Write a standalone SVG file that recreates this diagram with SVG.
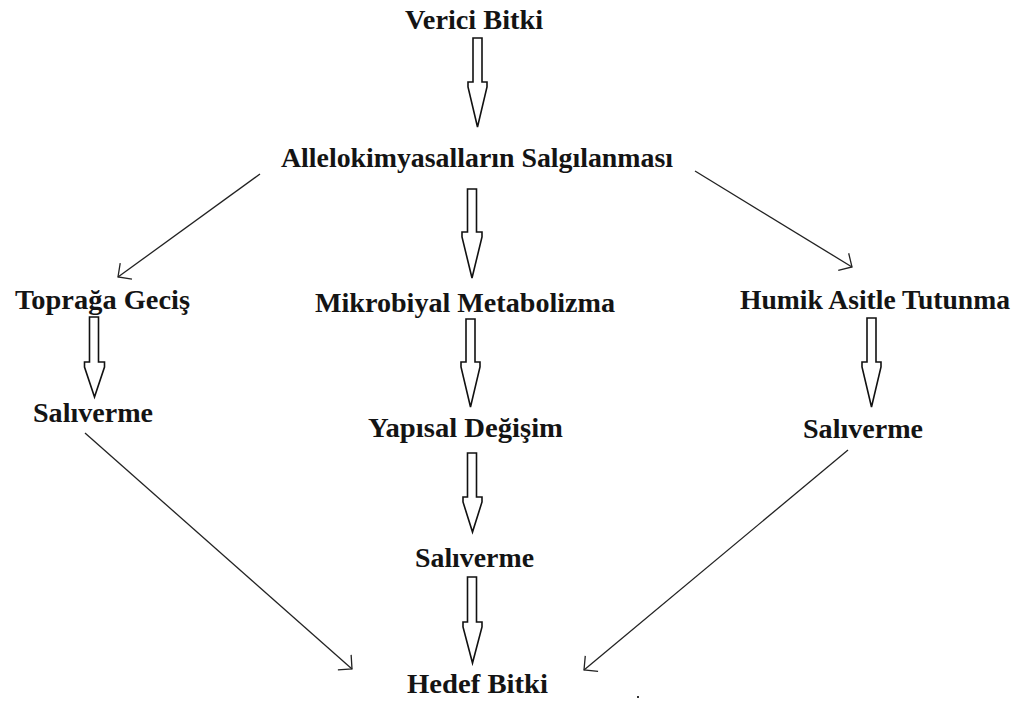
<svg xmlns="http://www.w3.org/2000/svg" width="1021" height="702" viewBox="0 0 1021 702">
<style>
.lbl{font-family:"Liberation Serif","Times New Roman",serif;font-weight:bold;font-size:27px;fill:#141414;text-anchor:middle}
.blk{fill:#fff;stroke:#111;stroke-width:1.6;stroke-linejoin:miter}
.ln{fill:none;stroke:#222;stroke-width:1.3}
</style>
<defs>
<marker id="open" markerUnits="userSpaceOnUse" viewBox="0 0 12 22" markerWidth="12" markerHeight="22" refX="11" refY="11" orient="auto">
<path d="M1,1 L11,11 L1,21" fill="none" stroke="#222" stroke-width="1.3"/>
</marker>
</defs>
<rect width="1021" height="702" fill="#fff"/>
<g id="nodes">
<g id="n-verici"><text class="lbl" x="474" y="29" textLength="138" lengthAdjust="spacingAndGlyphs">Verici Bitki</text></g>
<g id="n-allelo"><text class="lbl" x="477" y="167" textLength="392" lengthAdjust="spacingAndGlyphs">Allelokimyasalların Salgılanması</text></g>
<g id="n-topraga"><text class="lbl" x="102.5" y="309" textLength="175" lengthAdjust="spacingAndGlyphs">Toprağa Geciş</text></g>
<g id="n-mikro"><text class="lbl" x="465" y="312" textLength="300" lengthAdjust="spacingAndGlyphs">Mikrobiyal Metabolizma</text></g>
<g id="n-humik"><text class="lbl" x="875" y="309" textLength="270" lengthAdjust="spacingAndGlyphs">Humik Asitle Tutunma</text></g>
<g id="n-sal1"><text class="lbl" x="93" y="422" textLength="120" lengthAdjust="spacingAndGlyphs">Salıverme</text></g>
<g id="n-yapisal"><text class="lbl" x="465.5" y="437" textLength="195" lengthAdjust="spacingAndGlyphs">Yapısal Değişim</text></g>
<g id="n-sal3"><text class="lbl" x="863" y="438" textLength="120" lengthAdjust="spacingAndGlyphs">Salıverme</text></g>
<g id="n-sal2"><text class="lbl" x="474.5" y="567" textLength="119" lengthAdjust="spacingAndGlyphs">Salıverme</text></g>
<g id="n-hedef"><text class="lbl" x="477.5" y="693" textLength="141" lengthAdjust="spacingAndGlyphs">Hedef Bitki</text></g>
</g>
<g id="connectors">
<polygon class="blk" points="473,38 482,38 482,82 487,82 487,87 477.5,127 468,87 468,82 473,82"/>
<polygon class="blk" points="467.5,189 476.5,189 476.5,232 482,232 482,237 472,278 462,237 462,232 467.5,232"/>
<polygon class="blk" points="89.5,317 98.5,317 98.5,362 104.5,362 104.5,367 94.5,397 84.5,367 84.5,362 89.5,362"/>
<polygon class="blk" points="466,319 475,319 475,362 480,362 480,367 470.5,407 461,367 461,362 466,362"/>
<polygon class="blk" points="867,318 876,318 876,362 881,362 881,367 871.5,407 862,367 862,362 867,362"/>
<polygon class="blk" points="467.5,453 476.5,453 476.5,497 482,497 482,502 472.5,532 463,502 463,497 467.5,497"/>
<polygon class="blk" points="467.5,577 476.5,577 476.5,622 482,622 482,627 472.5,663 463,627 463,622 467.5,622"/>
<line class="ln" x1="260" y1="174" x2="118" y2="277" marker-end="url(#open)"/>
<line class="ln" x1="695" y1="171" x2="852" y2="267" marker-end="url(#open)"/>
<line class="ln" x1="85" y1="433" x2="352" y2="669" marker-end="url(#open)"/>
<line class="ln" x1="848" y1="450" x2="584" y2="670" marker-end="url(#open)"/>
</g>
<rect x="637" y="696" width="2" height="2" fill="#333"/>
</svg>
